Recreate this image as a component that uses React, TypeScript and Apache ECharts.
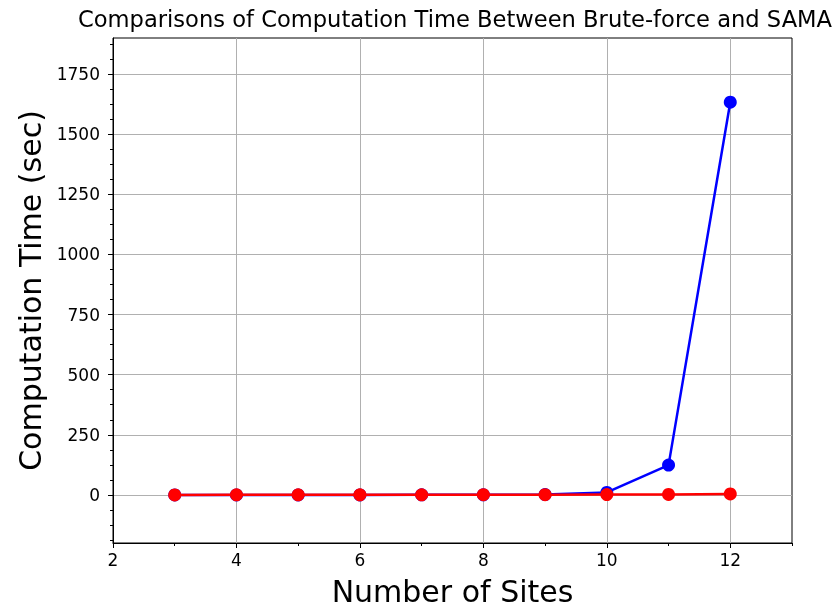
import React, { useEffect, useRef } from "react";
import * as echarts from "echarts";

const TITLE = "Comparisons of Computation Time Between Brute-force and SAMA";
const X_LABEL = "Number of Sites";
const Y_LABEL = "Computation Time (sec)";

const sites = [3, 4, 5, 6, 7, 8, 9, 10, 11, 12];
const bruteForce = [0.01, 0.02, 0.05, 0.1, 0.2, 0.5, 1.5, 10.5, 124, 1633];
const sama = [0.1, 0.2, 0.3, 0.4, 0.6, 0.8, 1.1, 1.5, 2.2, 4];

const xTicks = [2, 4, 6, 8, 10, 12];
const xMinorTicks = [3, 5, 7, 9, 11, 13];
const yTicks = [0, 250, 500, 750, 1000, 1250, 1500, 1750];
const yMinorTicks: number[] = [];
[-250, ...yTicks].forEach((t) => {
  [62.5, 125, 187.5].forEach((d) => {
    const v = t + d;
    if (v >= -200 && v <= 1900) yMinorTicks.push(v);
  });
});

const FONT = "DejaVu Sans";

export default function App() {
  const ref = useRef<HTMLDivElement>(null);
  useEffect(() => {
    if (!ref.current) return;
    const chart = echarts.init(ref.current, undefined, { renderer: "svg" });
    const tickStyle = { color: "#000", width: 1 };
    chart.setOption({
      animation: false,
      title: {
        text: TITLE,
        left: 450,
        top: 2,
        textAlign: "center",
        textStyle: { fontSize: 22.6, fontWeight: "normal", color: "#000", fontFamily: FONT },
      },
      grid: {
        left: 113,
        right: 45,
        top: 38,
        bottom: 69,
        show: true,
        borderColor: "#000",
        borderWidth: 1,
        backgroundColor: "transparent",
      },
      xAxis: [
        {
          type: "value",
          min: 2,
          max: 13,
          position: "bottom",
          name: X_LABEL,
          nameLocation: "middle",
          nameGap: 33,
          nameTextStyle: { fontSize: 30, color: "#000", fontFamily: FONT },
          axisLine: { show: true, onZero: false, lineStyle: tickStyle },
          axisTick: { show: true, customValues: xTicks, length: 5, lineStyle: tickStyle },
          axisLabel: {
            customValues: xTicks,
            color: "#000",
            fontSize: 17,
            fontFamily: FONT,
            margin: 8,
            formatter: (v: number) => String(v),
          },
          splitLine: { show: true, lineStyle: { color: "#b0b0b0", width: 1 } },
        },
        {
          type: "value",
          min: 2,
          max: 13,
          position: "bottom",
          axisLine: { show: false, onZero: false },
          axisTick: { show: true, customValues: xMinorTicks, length: 3, lineStyle: tickStyle },
          axisLabel: { show: false },
          splitLine: { show: false },
        },
      ],
      yAxis: [
        {
          type: "value",
          min: -200,
          max: 1900,
          position: "left",
          name: Y_LABEL,
          nameLocation: "middle",
          nameGap: 66,
          nameTextStyle: { fontSize: 30, color: "#000", fontFamily: FONT },
          axisLine: { show: true, onZero: false, lineStyle: tickStyle },
          axisTick: { show: true, customValues: yTicks, length: 5, lineStyle: tickStyle },
          axisLabel: {
            customValues: yTicks,
            color: "#000",
            fontSize: 17,
            fontFamily: FONT,
            margin: 13,
            formatter: (v: number) => String(v),
          },
          splitLine: { show: true, lineStyle: { color: "#b0b0b0", width: 1 } },
        },
        {
          type: "value",
          min: -200,
          max: 1900,
          position: "left",
          axisLine: { show: false, onZero: false },
          axisTick: { show: true, customValues: yMinorTicks, length: 3, lineStyle: tickStyle },
          axisLabel: { show: false },
          splitLine: { show: false },
        },
      ],
      series: [
        {
          name: "Brute-force",
          type: "line",
          xAxisIndex: 0,
          yAxisIndex: 0,
          data: sites.map((x, i) => [x, bruteForce[i]]),
          symbol: "circle",
          symbolSize: 13,
          lineStyle: { color: "#0000ff", width: 2.5 },
          itemStyle: { color: "#0000ff" },
          z: 3,
        },
        {
          name: "SAMA",
          type: "line",
          xAxisIndex: 0,
          yAxisIndex: 0,
          data: sites.map((x, i) => [x, sama[i]]),
          symbol: "circle",
          symbolSize: 13,
          lineStyle: { color: "#ff0000", width: 2.5 },
          itemStyle: { color: "#ff0000" },
          z: 4,
        },
      ],
    });
    return () => chart.dispose();
  }, []);
  return (
    <div
      ref={ref}
      style={{ position: "fixed", left: 0, top: 0, width: 837, height: 612 }}
    />
  );
}
